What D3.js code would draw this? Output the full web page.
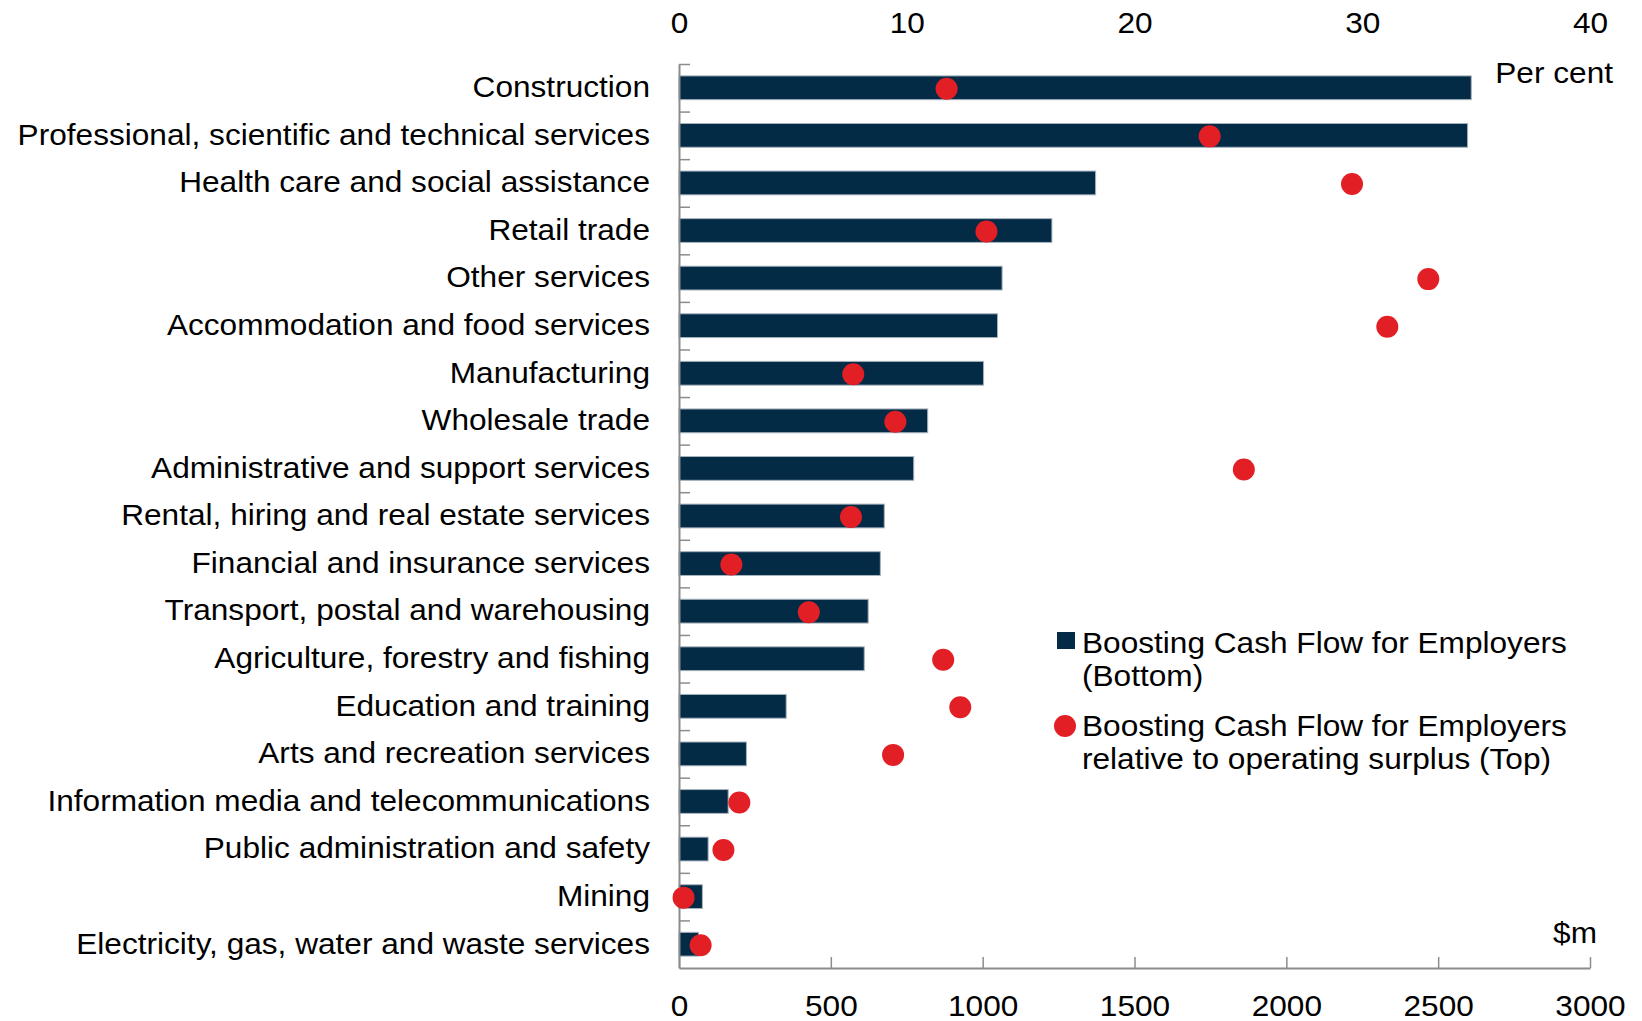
<!doctype html>
<html>
<head>
<meta charset="utf-8">
<style>
body { margin: 0; background: #fff; }
svg { font-family: "Liberation Sans", Arial, sans-serif; }
</style>
<script src="https://d3js.org/d3.v7.min.js"></script>
</head>
<body>
<svg width="1642" height="1021"></svg>
<script>
// industries, top to bottom
var industries = [
  "Construction",
  "Professional, scientific and technical services",
  "Health care and social assistance",
  "Retail trade",
  "Other services",
  "Accommodation and food services",
  "Manufacturing",
  "Wholesale trade",
  "Administrative and support services",
  "Rental, hiring and real estate services",
  "Financial and insurance services",
  "Transport, postal and warehousing",
  "Agriculture, forestry and fishing",
  "Education and training",
  "Arts and recreation services",
  "Information media and telecommunications",
  "Public administration and safety",
  "Mining",
  "Electricity, gas, water and waste services"
];

// Boosting Cash Flow for Employers, $m (bottom axis)
var cashFlow = [2609, 2597, 1372, 1228, 1064, 1049, 1003, 819, 773, 676,
                663, 623, 610, 353, 222, 162, 96, 77, 64];

// relative to operating surplus, per cent (top axis)
var relSurplus = [11.75, 23.3, 29.55, 13.5, 32.9, 31.1, 7.65, 9.5, 24.8, 7.55,
                  2.3, 5.7, 11.6, 12.35, 9.4, 2.65, 1.95, 0.2, 0.95];

var bottomTicks = [0, 500, 1000, 1500, 2000, 2500, 3000];
var topTicks = [0, 10, 20, 30, 40];

var legendBar = ["Boosting Cash Flow for Employers", "(Bottom)"];
var legendDot = ["Boosting Cash Flow for Employers", "relative to operating surplus (Top)"];

var svg = d3.select("svg");
var mLeft = 679, mRight = 1590, mTop = 64, mBottom = 968;
var fs = 29, sx = 1.09;   // text is a bit wide in the original
var barCol = "#032b46", dotCol = "#e31f26", axisCol = "#8c8c8c";

// widen a text about its own anchor
function stretch(sel) {
  sel.each(function() {
    var t = d3.select(this);
    var x = +t.attr("x") || 0;
    t.attr("x", x / sx).attr("transform", "scale(" + sx + ",1)");
  });
}

var xBottom = d3.scaleLinear().domain([0, 3000]).range([mLeft, mRight]);
var xTop = d3.scaleLinear().domain([0, 40]).range([mLeft, mRight]);
var y = d3.scaleBand().domain(industries).range([mTop, mBottom])
          .paddingInner(0.5).paddingOuter(0.25);

// bars
svg.append("g").selectAll("rect")
  .data(industries)
  .enter().append("rect")
    .attr("x", xBottom(0))
    .attr("y", function(d) { return y(d); })
    .attr("width", function(d, i) { return xBottom(cashFlow[i]) - xBottom(0); })
    .attr("height", y.bandwidth())
    .attr("fill", barCol)
    .attr("stroke", "#a7b3bd")
    .attr("stroke-width", 1);

// bottom axis
var gb = svg.append("g")
  .attr("transform", "translate(0," + mBottom + ")")
  .call(d3.axisBottom(xBottom).tickValues(bottomTicks).tickFormat(d3.format("d"))
        .tickSizeInner(-11).tickSizeOuter(0).tickPadding(27));
gb.select(".domain").attr("stroke", axisCol).attr("stroke-width", 2);
gb.selectAll(".tick line").attr("stroke", axisCol).attr("stroke-width", 1.5);
gb.selectAll("text").attr("font-size", fs).attr("fill", "#000")
  .attr("font-family", "Liberation Sans, Arial, sans-serif").call(stretch);

// top axis (labels only)
var gt = svg.append("g")
  .attr("transform", "translate(0,33)")
  .call(d3.axisTop(xTop).tickValues(topTicks).tickSize(0).tickPadding(0));
gt.select(".domain").remove();
gt.selectAll("text").attr("font-size", fs).attr("fill", "#000").attr("dy", 0)
  .attr("font-family", "Liberation Sans, Arial, sans-serif").call(stretch);

// left axis: category labels
var gl = svg.append("g")
  .attr("transform", "translate(" + mLeft + ",0)")
  .call(d3.axisLeft(y).tickSize(0).tickPadding(29));
gl.select(".domain").attr("stroke", axisCol).attr("stroke-width", 2);
gl.selectAll("text").attr("font-size", fs).attr("fill", "#000")
  .attr("font-family", "Liberation Sans, Arial, sans-serif").call(stretch);

// category boundary ticks
var yIdx = d3.scaleLinear().domain([0, industries.length]).range([mTop, mBottom]);
var gr = svg.append("g")
  .attr("transform", "translate(" + mLeft + ",0)")
  .call(d3.axisRight(yIdx).tickValues(d3.range(industries.length)).tickSize(11).tickFormat(""));
gr.select(".domain").remove();
gr.selectAll(".tick line").attr("stroke", axisCol).attr("stroke-width", 1.5);

// dots
svg.append("g").selectAll("circle")
  .data(industries)
  .enter().append("circle")
    .attr("cx", function(d, i) { return xTop(relSurplus[i]); })
    .attr("cy", function(d) { return y(d) + y.bandwidth() / 2 + 1; })
    .attr("r", 11)
    .attr("fill", dotCol);

// unit labels
svg.append("g").attr("transform", "translate(1613,83)")
  .append("text").attr("text-anchor", "end").attr("font-size", fs).text("Per cent").call(stretch);
svg.append("g").attr("transform", "translate(1597,943)")
  .append("text").attr("text-anchor", "end").attr("font-size", fs).text("$m").call(stretch);

// legend
svg.append("rect").attr("x", 1057).attr("y", 632).attr("width", 18).attr("height", 17)
  .attr("fill", barCol);
svg.append("circle").attr("cx", 1065).attr("cy", 726).attr("r", 11).attr("fill", dotCol);

function legendText(lines, y0) {
  svg.append("g").attr("transform", "translate(1082," + y0 + ")")
    .append("text").attr("font-size", fs).call(stretch)
    .selectAll("tspan").data(lines).enter().append("tspan")
      .attr("x", 0).attr("y", function(d, i) { return i * 33; })
      .text(function(d) { return d; });
}
legendText(legendBar, 653);
legendText(legendDot, 736);
</script>
</body>
</html>
